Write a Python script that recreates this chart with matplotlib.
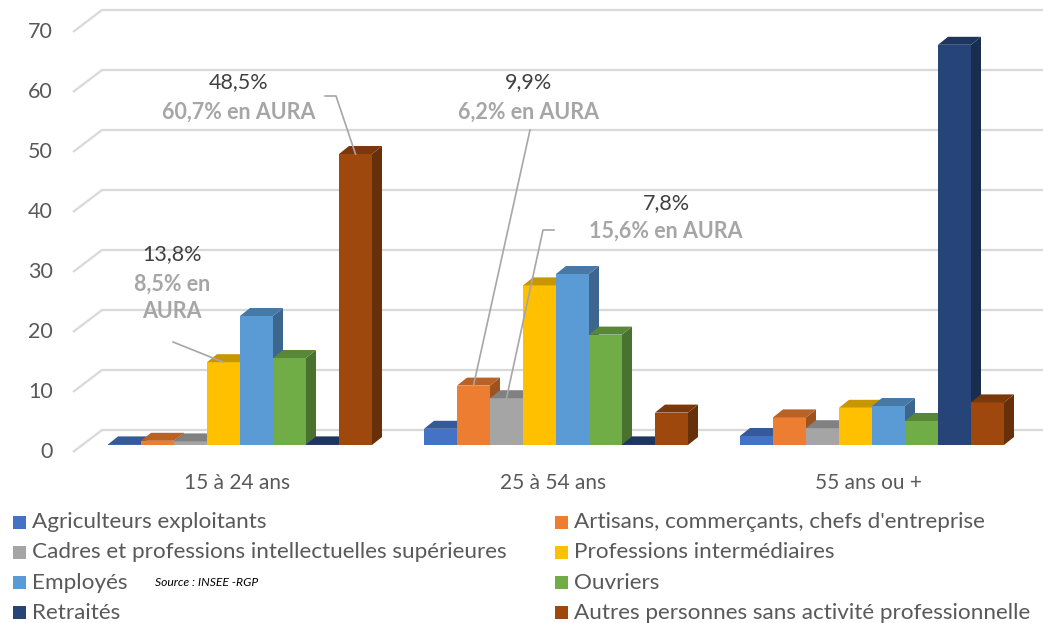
import numpy as np
import matplotlib.pyplot as plt
from matplotlib.patches import Polygon, Rectangle
from matplotlib.lines import Line2D
from matplotlib.colors import to_rgb

plt.rcParams['font.family'] = ['Lato', 'DejaVu Sans']

# age groups (x categories)
groups = ["15 à 24 ans", "25 à 54 ans", "55 ans ou +"]

# series, in legend order
series = ["Agriculteurs exploitants",
          "Artisans, commerçants, chefs d'entreprise",
          "Cadres et professions intellectuelles supérieures",
          "Professions intermédiaires",
          "Employés",
          "Ouvriers",
          "Retraités",
          "Autres personnes sans activité professionnelle"]
colors = ["#4472C4", "#ED7D31", "#A5A5A5", "#FFC000",
          "#5B9BD5", "#70AD47", "#264478", "#9E480E"]

# % of population per age group
agriculteurs = [0.1, 2.7, 1.5]
artisans = [0.7, 9.9, 4.6]
cadres = [0.6, 7.8, 2.8]
prof_inter = [13.8, 26.6, 6.2]
employes = [21.5, 28.5, 6.5]
ouvriers = [14.5, 18.4, 4.0]
retraites = [0.1, 0.1, 66.7]
autres = [48.5, 5.4, 7.1]
values = [agriculteurs, artisans, cadres, prof_inter, employes, ouvriers, retraites, autres]

yticks = [0, 10, 20, 30, 40, 50, 60, 70]

# callouts: (group index, series index, value label, AURA label)
callouts = [(0, 7, "48,5%", "60,7% en AURA"),
            (0, 3, "13,8%", "8,5% en\nAURA"),
            (1, 1, "9,9%", "6,2% en AURA"),
            (1, 2, "7,8%", "15,6% en AURA")]

# ---- layout (pixels) ----
W, H = 1043, 623
BAR_PX = 33          # width of one bar
X0 = 108             # left edge of first bar
Y0 = 445             # baseline of bar fronts, from top
PX_PER_UNIT = 6.0
GROUP_STEP = 316 / BAR_PX
DX, DY = 10 / BAR_PX, 8 / PX_PER_UNIT   # bar depth

fig = plt.figure(figsize=(W / 100, H / 100), dpi=100)
ax = fig.add_axes([0, 0, 1, 1])
ax.axis('off')
ax.set_xlim(-X0 / BAR_PX, (W - X0) / BAR_PX)
ax.set_ylim(-(H - Y0) / PX_PER_UNIT, Y0 / PX_PER_UNIT)


def fp(x, t):
    # pixel position (from top-left) -> figure fraction
    return x / W, 1 - t / H


# gridlines with their oblique wall part
gx_front, gy_front = (73 - X0) / BAR_PX, -7 / PX_PER_UNIT
gx_back, gy_back = (102 - X0) / BAR_PX, 15 / PX_PER_UNIT
x_right = (W - X0) / BAR_PX
for v in yticks:
    ax.plot([gx_front, gx_back, x_right], [v + gy_front, v + gy_back, v + gy_back],
            color="#D9D9D9", lw=1.6, zorder=1, solid_capstyle='butt')
    ax.text((53 - X0) / BAR_PX, v + gy_front, str(v), ha='right', va='center',
            fontsize=15.5, color="#595959")


def shade(c, f):
    r, g, b = to_rgb(c)
    return (r * f, g * f, b * f)


# 3D-looking bars
n = len(series)
z = 2
for g in range(len(groups)):
    for j in range(n):
        v = values[j][g]
        x = g * GROUP_STEP + j
        col = colors[j]
        ax.add_patch(Polygon([(x + 1, 0), (x + 1 + DX, DY), (x + 1 + DX, v + DY), (x + 1, v)],
                             closed=True, fc=shade(col, 0.66), ec='none', zorder=z))
        ax.bar(x, v, width=1, align='edge', color=col, zorder=z + 0.1, lw=0)
        ax.add_patch(Polygon([(x, v), (x + DX, v + DY), (x + 1 + DX, v + DY), (x + 1, v)],
                             closed=True, fc=shade(col, 0.78), ec='none', zorder=z + 0.2))
        z += 1

# category labels
for g, name in enumerate(groups):
    ax.text(g * GROUP_STEP + n / 2 - 0.1, (Y0 - 483) / PX_PER_UNIT, name,
            ha='center', va='center', fontsize=15, color="#595959")

# callouts with leader lines
txt_pos = [(239, 82, 112), (172, 254, 298), (529, 82, 112), (666, 203, 231)]
leaders = [[(325, 96), (336, 96)], [(173, 342)], [(530, 130)], [(554, 230), (543, 230)]]
to_fig = ax.transData + fig.transFigure.inverted()
for (g, j, lab, aura), (tx, ty1, ty2), pts in zip(callouts, txt_pos, leaders):
    fig.text(*fp(tx, ty1), lab, ha='center', va='center', fontsize=15.5, color="#404040")
    fig.text(*fp(tx, ty2), aura, ha='center', va='center', fontsize=15.5,
             color="#A6A6A6", fontweight='bold', linespacing=1.4)
    anchor = to_fig.transform((g * GROUP_STEP + j + 0.5, values[j][g]))
    xs = [fp(px, pt)[0] for px, pt in pts] + [anchor[0]]
    ys = [fp(px, pt)[1] for px, pt in pts] + [anchor[1]]
    fig.add_artist(Line2D(xs, ys, color="#A6A6A6", lw=1.2, zorder=50))

# legend, two columns filled row by row
for i, name in enumerate(series):
    row, c = divmod(i, 2)
    mx = 13 if c == 0 else 555
    t = 522 + 30.3 * row
    x, y = fp(mx, t + 6.5)
    fig.add_artist(Rectangle((x, y), 13 / W, 13 / H, transform=fig.transFigure,
                             fc=colors[i], ec='none'))
    fig.text(*fp(mx + 19, t), name, ha='left', va='center', fontsize=16.2, color="#595959")

fig.text(*fp(155, 583), "Source : INSEE -RGP", ha='left', va='center',
         fontsize=8.7, style='italic', color="#000000")

fig.savefig("out.png", dpi=100)
